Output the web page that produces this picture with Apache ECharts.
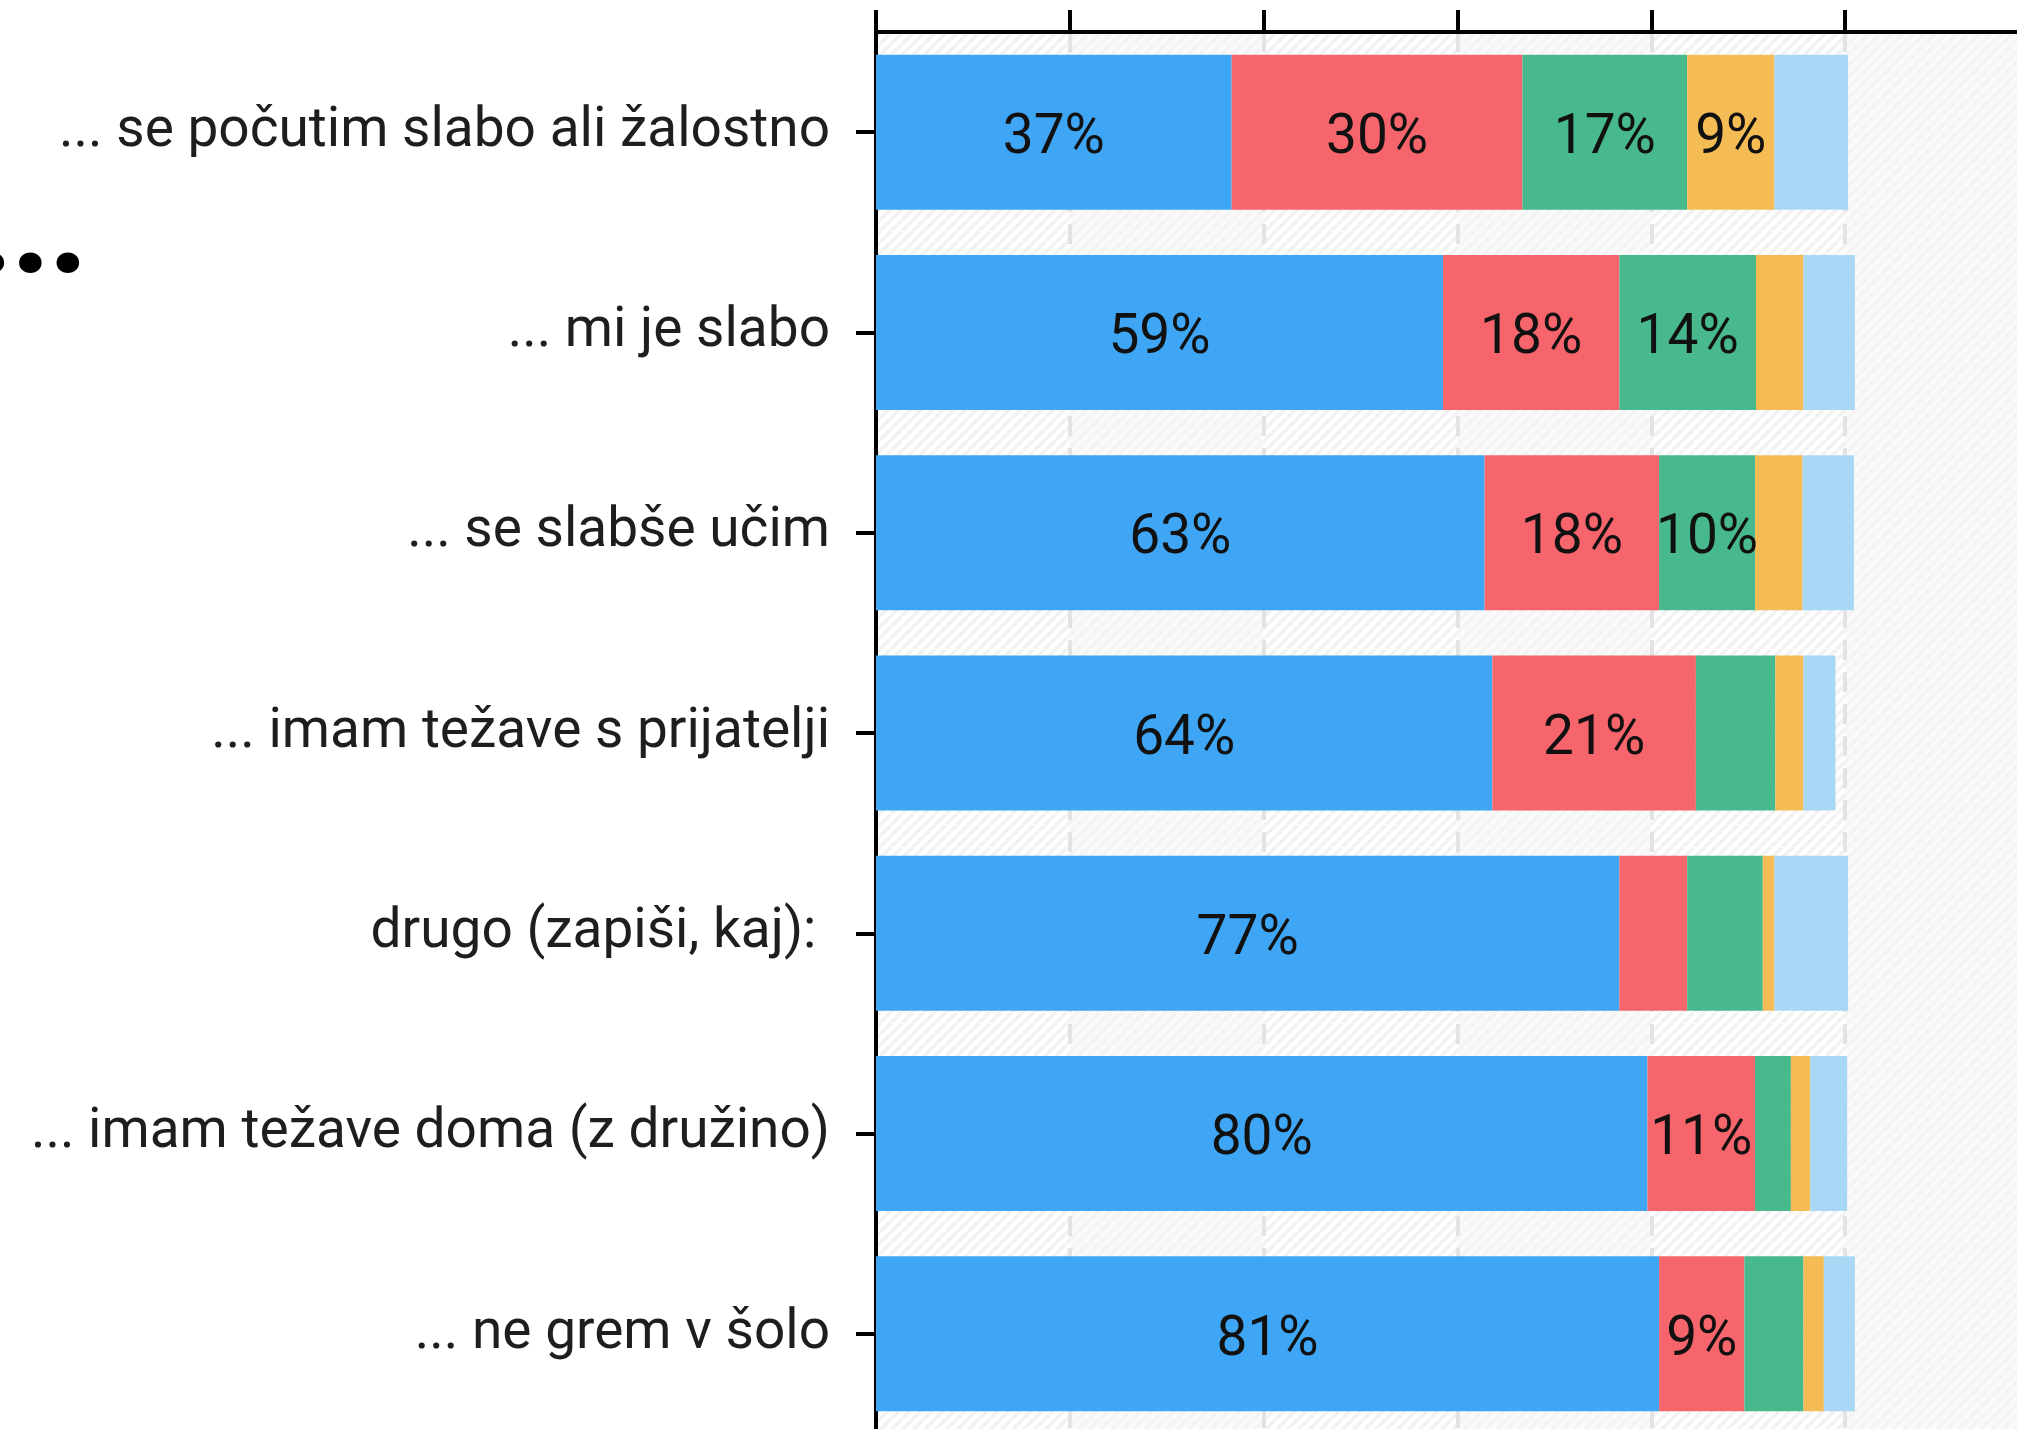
<!DOCTYPE html>
<html>
<head>
<meta charset="utf-8">
<script src="https://cdn.jsdelivr.net/npm/echarts@6/dist/echarts.min.js"></script>
<style>
  html, body { margin: 0; padding: 0; background: #fff; }
  #chart { width: 2017px; height: 1429px; }
</style>
</head>
<body>
<div id="chart"></div>
<script>
// Categories (top to bottom)
const categories = [
    '... se počutim slabo ali žalostno',
    '... mi je slabo',
    '... se slabše učim',
    '... imam težave s prijatelji',
    'drugo (zapiši, kaj): ',
    '... imam težave doma (z družino)',
    '... ne grem v šolo'
];

// Share of answers per category, in percent
const answer1 = [36.7, 58.5, 62.8, 63.6, 76.7, 79.6, 80.8];
const answer2 = [30.0, 18.2, 18.0, 21.0, 7.0, 11.1, 8.8];
const answer3 = [17.0, 14.1, 9.9, 8.2, 7.8, 3.7, 6.1];
const answer4 = [9.0, 4.9, 4.9, 2.9, 1.2, 2.0, 2.1];
const answer5 = [7.6, 5.3, 5.3, 3.3, 7.6, 3.8, 3.2];

const seriesNames = ['Nikoli', 'Redko', 'Včasih', 'Pogosto', 'Vedno'];
const seriesData = [answer1, answer2, answer3, answer4, answer5];
const colors = ['#3ea6f4', '#f6656b', '#48b98d', '#f5bb55', '#a9d8f6'];

// small diagonal hatch tile used as split area fill
function hatch(bg, stripe) {
    const size = 11;
    const c = document.createElement('canvas');
    c.width = size;
    c.height = size;
    const g = c.getContext('2d');
    g.fillStyle = bg;
    g.fillRect(0, 0, size, size);
    g.strokeStyle = stripe;
    g.lineWidth = 3.5;
    g.beginPath();
    [-size, 0, size].forEach(o => {
        g.moveTo(o, size);
        g.lineTo(o + size, 0);
    });
    g.stroke();
    return { image: c, repeat: 'repeat' };
}

const chartDom = document.getElementById('chart');
const myChart = echarts.init(chartDom);

const labelFont = 'Roboto';

const option = {
    backgroundColor: '#fff',
    animation: false,
    grid: { left: 876, top: 32, width: 1163, height: 1402, containLabel: false, outerBoundsMode: 'none' },
    graphic: [{
        type: 'text',
        style: {
            text: '...',
            x: 87,
            y: 303,
            textAlign: 'right',
            textVerticalAlign: 'bottom',
            font: '900 124px Roboto',
            fill: '#000'
        }
    }],
    xAxis: {
        type: 'value',
        position: 'top',
        min: 0,
        max: 120,
        interval: 20,
        axisLabel: { show: false },
        axisLine: { show: true, lineStyle: { color: '#000', width: 4 } },
        axisTick: { show: true, length: 22, lineStyle: { color: '#000', width: 4 } },
        splitLine: { show: true, lineStyle: { color: '#e3e3e3', width: 4, type: [20, 12] } },
        splitArea: { show: true, areaStyle: { color: [hatch('#ffffff', '#f2f2f2'), hatch('#fafafa', '#f4f4f4')] } }
    },
    yAxis: {
        type: 'category',
        inverse: true,
        data: categories,
        axisLine: { show: true, lineStyle: { color: '#000', width: 4 } },
        axisTick: { show: true, alignWithLabel: true, length: 20, lineStyle: { color: '#000', width: 4 } },
        axisLabel: { fontSize: 55, fontFamily: labelFont, color: '#1e1e1e', margin: 46, padding: [16, 0, 0, 0] },
        splitLine: { show: true, alignWithLabel: true, lineStyle: { color: '#e3e3e3', width: 4, type: [20, 12] } }
    },
    series: seriesData.map((d, i) => ({
        name: seriesNames[i],
        type: 'bar',
        stack: 'total',
        barWidth: 155,
        data: d,
        itemStyle: { color: colors[i] },
        label: {
            show: true,
            position: 'inside',
            offset: [0, 7],
            fontSize: 55,
            fontFamily: labelFont,
            color: '#111',
            textBorderWidth: 0,
            formatter: p => Math.round(p.value) >= 9 ? Math.round(p.value) + '%' : ''
        }
    }))
};

myChart.setOption(option);
</script>
</body>
</html>
